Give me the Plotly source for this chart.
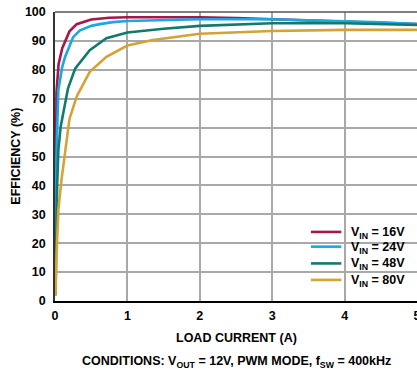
import plotly.graph_objects as go

# Load current (A) and measured efficiency (%) for each input voltage
current_16v = [0.004, 0.01, 0.02, 0.05, 0.1, 0.2, 0.3, 0.5, 0.75, 1.0, 1.5, 2.0, 2.5, 3.0, 3.5, 4.0, 4.5, 5.0]
eff_16v = [2, 35, 72, 82, 87.5, 93.3, 95.8, 97.4, 98.0, 98.2, 98.2, 98.2, 97.9, 97.5, 97.1, 96.7, 96.3, 95.8]

current_24v = [0.004, 0.01, 0.02, 0.046, 0.1, 0.14, 0.25, 0.34, 0.5, 0.62, 0.8, 1.0, 1.5, 2.0, 3.0, 4.0, 4.5, 5.0]
eff_24v = [2, 25, 50, 73, 81, 84.5, 91.3, 93.6, 95.2, 95.8, 96.5, 96.9, 97.3, 97.5, 97.5, 96.9, 96.4, 95.8]

current_48v = [0.006, 0.015, 0.03, 0.046, 0.078, 0.18, 0.28, 0.48, 0.71, 1.0, 1.5, 2.0, 3.0, 4.0, 5.0]
eff_48v = [2, 20, 40, 52, 60.3, 73.6, 80.5, 86.8, 90.9, 92.9, 94.2, 95.2, 96.1, 96.1, 95.5]

current_80v = [0.008, 0.02, 0.046, 0.09, 0.2, 0.3, 0.48, 0.62, 0.71, 1.0, 1.35, 2.0, 3.0, 4.0, 5.0]
eff_80v = [2, 15, 31.5, 42, 63, 70.8, 79.3, 82.4, 84.5, 88.4, 90.3, 92.5, 93.4, 93.8, 93.8]

series_names = ["V<sub>IN</sub> = 16V", "V<sub>IN</sub> = 24V", "V<sub>IN</sub> = 48V", "V<sub>IN</sub> = 80V"]
series_x = [current_16v, current_24v, current_48v, current_80v]
series_y = [eff_16v, eff_24v, eff_48v, eff_80v]
series_colors = ["#a3194b", "#1aa8e0", "#127a6c", "#d4a235"]

x_ticks = [0, 1, 2, 3, 4, 5]
y_ticks = [0, 10, 20, 30, 40, 50, 60, 70, 80, 90, 100]

FONT = "Liberation Sans, Arial, sans-serif"
TEXT_FONT = dict(family=FONT, size=12.5, color="black", weight="bold")

fig = go.Figure()
for name, x, y, color in zip(series_names, series_x, series_y, series_colors):
    fig.add_trace(go.Scatter(
        x=x, y=y, mode="lines", name=name, showlegend=False,
        line=dict(color=color, width=2.6),
    ))

# Compact key box in the lower-right corner of the plot area (paper coords)
key_box = dict(x0=0.69, x1=0.972, y0=0.035, y1=0.268)
key_rows = [0.239, 0.188, 0.130, 0.073]
key_line_x = (0.707, 0.791)
key_text_x = 0.812

shapes = [
    dict(type="line", xref="paper", yref="paper", x0=0, x1=1, y0=1, y1=1,
         line=dict(color="#555555", width=1.5)),
    dict(type="rect", xref="paper", yref="paper", layer="between",
         fillcolor="white", line=dict(width=0), **key_box),
]
annotations = [
    dict(text="EFFICIENCY (%)", xref="paper", yref="paper", x=-0.11, y=0.5,
         xanchor="center", yanchor="middle", textangle=-90, showarrow=False,
         font=TEXT_FONT),
    dict(text="LOAD CURRENT (A)", xref="paper", yref="paper", x=0.5, y=-0.128,
         xanchor="center", yanchor="middle", showarrow=False, font=TEXT_FONT),
    dict(text="CONDITIONS: V<sub>OUT</sub> = 12V, PWM MODE, f<sub>SW</sub> = 400kHz",
         xref="paper", yref="paper", x=0.5, y=-0.212,
         xanchor="center", yanchor="middle", showarrow=False, font=TEXT_FONT),
]
for name, color, ky in zip(series_names, series_colors, key_rows):
    shapes.append(dict(type="line", xref="paper", yref="paper", layer="above",
                       x0=key_line_x[0], x1=key_line_x[1], y0=ky, y1=ky,
                       line=dict(color=color, width=2.6)))
    annotations.append(dict(text=name, xref="paper", yref="paper",
                            x=key_text_x, y=ky - 0.003, xanchor="left", yanchor="middle",
                            showarrow=False, font=TEXT_FONT))

fig.update_layout(
    width=417, height=369,
    margin=dict(l=55, r=0, t=12, b=68),
    paper_bgcolor="white", plot_bgcolor="white",
    font=TEXT_FONT,
    showlegend=False,
    xaxis=dict(
        range=[0, 5], tickvals=x_ticks, ticks="", ticklabeloverflow="allow",
        automargin=False, ticklabelstandoff=2,
        showgrid=True, gridcolor="#a9a9a9", gridwidth=1.5,
        showline=True, linecolor="black", linewidth=2,
        zeroline=False,
    ),
    yaxis=dict(
        range=[0, 100], tickvals=y_ticks, ticks="", automargin=False,
        showgrid=True, gridcolor="#a9a9a9", gridwidth=1.5,
        showline=True, linecolor="#333333", linewidth=1.5,
        zeroline=False, ticklabelstandoff=5,
    ),
    shapes=shapes,
    annotations=annotations,
)

fig.write_html("out.html")
